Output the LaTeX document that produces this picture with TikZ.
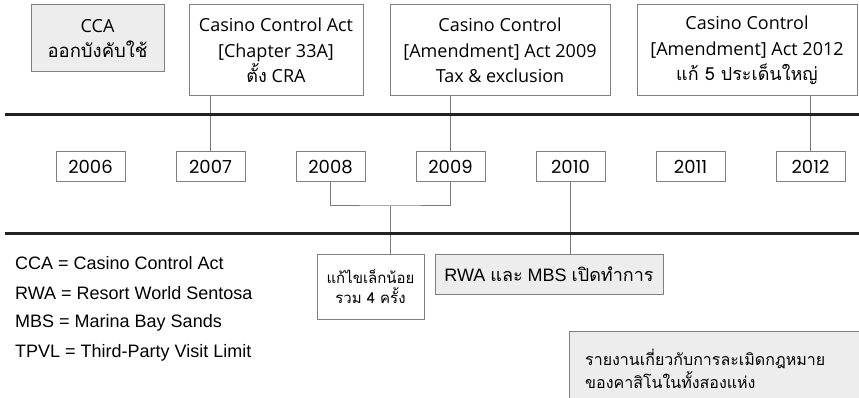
\documentclass[tikz,border=0pt]{standalone}
\usepackage{fontspec}
\setmainfont{Liberation Sans}
\newfontfamily\thai[Script=Thai]{Loma}
\newfontfamily\hum{Open Sans}
\newfontfamily\yr{Poppins}
\definecolor{boxgray}{HTML}{EDEDED}
\definecolor{edgegray}{HTML}{808080}
\definecolor{linegray}{HTML}{7A7A7A}
\definecolor{thick}{HTML}{222222}
\begin{document}
\begin{tikzpicture}[x=1pt,y=-1pt,
  topbox/.style={draw=edgegray,line width=1pt,align=center,inner sep=0pt,font=\hum\fontsize{18}{25.5}\selectfont},
  yearbox/.style={draw=edgegray,line width=1pt,minimum width=69pt,minimum height=30pt,inner sep=0pt,font=\yr\fontsize{18}{20}\selectfont},
  conn/.style={draw=linegray,line width=1pt},
  axis/.style={draw=thick,line width=3pt},
  legend/.style={anchor=west,inner sep=0pt,font=\fontsize{18}{20}\selectfont},
  note/.style={draw=edgegray,line width=1pt,inner sep=0pt,align=center}]
\useasboundingbox (0,0) rectangle (859,398);
% top boxes
\node[topbox,fill=boxgray,minimum width=133pt,minimum height=67pt] (b1) at (97.5,38.5) {CCA\\{\thai\fontsize{18.5}{24}\selectfont ออกบังคับใช้}};
\node[topbox,minimum width=174pt,minimum height=91pt] (b2) at (276,50.5) {Casino Control Act\\{[}Chapter 33A{]}\\{\thai ตั้ง} CRA};
\node[topbox,minimum width=220pt,minimum height=91pt] (b3) at (500,50.5) {Casino Control\\{[}Amendment{]} Act 2009\\Tax \& exclusion};
\node[topbox,minimum width=220pt,minimum height=91pt] (b4) at (747,50.5) {Casino Control\\{[}Amendment{]} Act 2012\\{\thai แก้ 5 ประเด็นใหญ่}};
% axis lines
\coordinate (a1l) at (5,115);
\coordinate (a1r) at (859,115);
\coordinate (a2l) at (5,233);
\coordinate (a2r) at (859,233);
% years
\node[yearbox] (y2006) at (90.5,167) {2006};
\node[yearbox] (y2007) at (210.5,167) {2007};
\node[yearbox] (y2008) at (330.5,167) {2008};
\node[yearbox] (y2009) at (450.5,167) {2009};
\node[yearbox] (y2010) at (570.5,167) {2010};
\node[yearbox] (y2011) at (690.5,167) {2011};
\node[yearbox] (y2012) at (810.5,167) {2012};
% connectors top
\draw[conn] (b2.south -| y2007.north) -- (y2007.north);
\draw[conn] (b3.south -| y2009.north) -- (y2009.north);
\draw[conn] (b4.south -| y2012.north) -- (y2012.north);
% lower boxes
\node[note,minimum width=107pt,minimum height=65pt,font=\thai\fontsize{15}{20}\selectfont] (small) at (370.5,286.5) {แก้ไขเล็กน้อย\\รวม 4 ครั้ง};
\node[note,fill=boxgray,minimum width=228pt,minimum height=40pt,font=\fontsize{18}{20}\selectfont] (rwa) at (549,274) {RWA {\thai และ} MBS {\thai เปิดทำการ}};
\node[note,fill=boxgray,minimum width=300pt,minimum height=80pt,anchor=north west] (rep) at (569,331) {};
\node[anchor=west,inner sep=0pt,align=left,font=\thai\fontsize{16}{23}\selectfont] (reptxt) at (585,368.5) {รายงานเกี่ยวกับการละเมิดกฎหมาย\\ของคาสิโนในทั้งสองแห่ง};
% bracket
\coordinate (bm) at (390,206);
\draw[conn] (y2008.south) |- (bm) -| (y2009.south);
\draw[conn] (bm) -- (bm |- small.north);
\draw[conn] (y2010.south) -- (y2010.south |- rwa.north);
\draw[axis] (a1l) -- (a1r);
\draw[axis] (a2l) -- (a2r);
% legend
\node[legend] (l1) at (15,263) {CCA = Casino Control Act};
\node[legend] (l2) at (15,293) {RWA = Resort World Sentosa};
\node[legend] (l3) at (15,323) {MBS = Marina Bay Sands};
\node[legend] (l4) at (15,353) {TPVL = Third-Party Visit Limit};
\end{tikzpicture}
\end{document}
